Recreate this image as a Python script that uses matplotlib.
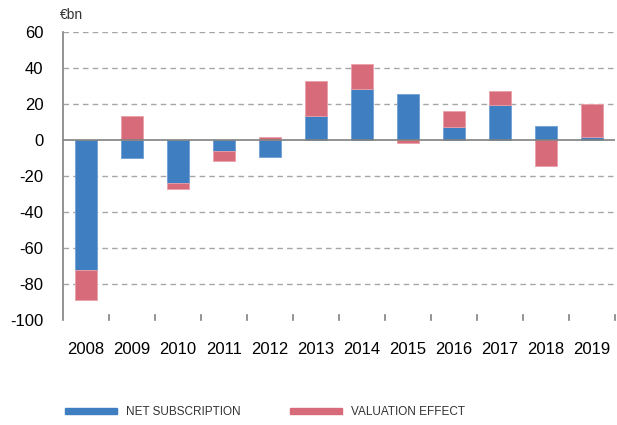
import numpy as np
import matplotlib
matplotlib.use("Agg")
import matplotlib.pyplot as plt
from matplotlib.patches import Patch

plt.rcParams['font.family'] = ['Liberation Sans', 'DejaVu Sans']

years = ['2008', '2009', '2010', '2011', '2012', '2013',
         '2014', '2015', '2016', '2017', '2018', '2019']
net_subscription = [-72, -10, -24, -6, -9.6, 13.5, 28.5, 25.4, 7, 19.3, 8, 1.7]
valuation_effect = [-17, 13.5, -3, -5.5, 1.5, 19, 13.7, -1.9, 9, 8, -14.3, 18.5]

blue = '#3f7fc1'
red = '#d86b7a'

fig = plt.figure(figsize=(6.17, 4.25), dpi=100)
ax = fig.add_axes([63 / 617, 1 - 320 / 425, 552 / 617, 288 / 425])

x = np.arange(len(years))
net = np.array(net_subscription)
val = np.array(valuation_effect)
w = 0.49

# stack positives and negatives separately
ax.bar(x, net, w, color=blue, edgecolor='#6f9fd3', linewidth=0.6, zorder=3)
val_base = np.where(np.sign(val) == np.sign(net), net, 0)
ax.bar(x, val, w, bottom=val_base, color=red, edgecolor='#e8a0aa', linewidth=0.6, zorder=3)

ax.set_xlim(-0.5, len(years) - 0.5)
ax.set_ylim(-100, 60)
ax.set_yticks(range(-100, 61, 20))
ax.set_yticklabels([str(v) for v in range(-100, 61, 20)], fontsize=12)
for v in range(-80, 61, 20):
    if v != 0:
        ax.axhline(v, color='#a6a6a6', lw=1.0, ls=(0, (4, 3)), zorder=1)
ax.axhline(0, color='#808080', lw=1.2, zorder=4)

ax.set_xticks(x)
ax.set_xticklabels(years, fontsize=12)
ax.tick_params(axis='x', length=0, pad=16)
for b in np.arange(-0.5, len(years), 1.0)[1:]:
    ax.plot([b, b], [-100, -97.3], color='#808080', lw=1.2, clip_on=False, zorder=4)
ax.tick_params(axis='y', length=0, pad=14)

for s in ['top', 'right', 'bottom']:
    ax.spines[s].set_visible(False)
ax.spines['left'].set_color('#808080')
ax.spines['left'].set_linewidth(1.2)

fig.text(60 / 617, 1 - 15 / 425, '€bn', fontsize=10, va='center', ha='left', color='#333333')

handles = [Patch(color=blue, label='NET SUBSCRIPTION'),
           Patch(color=red, label='VALUATION EFFECT')]
leg = fig.legend(handles=handles, loc='center left', bbox_to_anchor=(60 / 617, 1 - 412 / 425),
                 ncol=2, frameon=False, handlelength=4.4, handleheight=0.42,
                 columnspacing=4.2, handletextpad=0.75, borderaxespad=0,
                 prop={'size': 8.5})
for t in leg.get_texts():
    t.set_color('#333333')

fig.savefig('out.png', dpi=100)
